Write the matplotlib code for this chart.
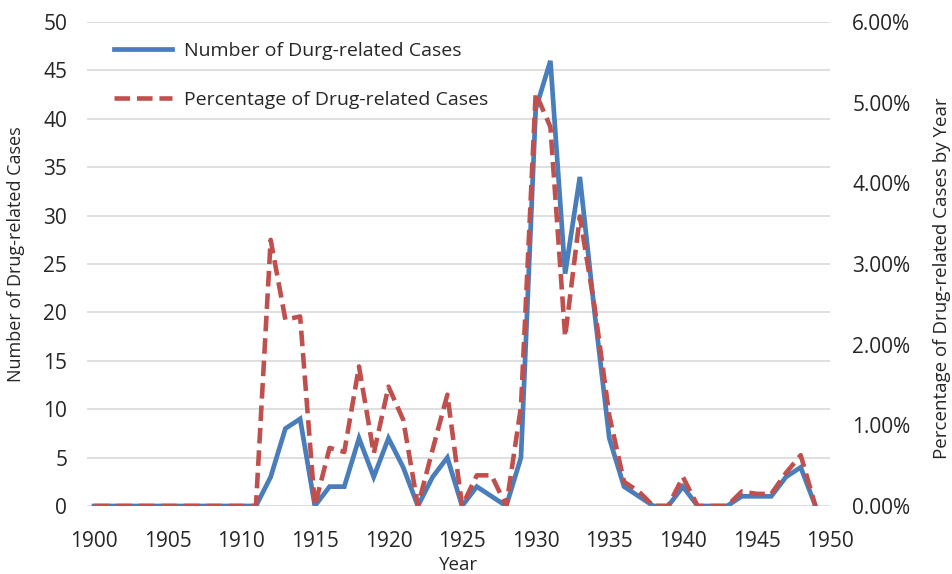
import matplotlib
matplotlib.use('Agg')
import matplotlib.pyplot as plt
from matplotlib.ticker import FuncFormatter

plt.rcParams['font.family'] = ['Open Sans', 'DejaVu Sans']

years = list(range(1900, 1950))
cases = [0, 0, 0, 0, 0, 0, 0, 0, 0, 0,
         0, 0, 3, 8, 9, 0, 2, 2, 7, 3,
         7, 4, 0, 3, 5, 0, 2, 1, 0, 5,
         41, 46, 24, 34, 20, 7, 2, 1, 0, 0,
         2, 0, 0, 0, 1, 1, 1, 3, 4, 0]
# percentage of drug-related cases (in %)
pct = [0, 0, 0, 0, 0, 0, 0, 0, 0, 0,
       0, 0, 3.30, 2.31, 2.35, 0, 0.72, 0.67, 1.73, 0.65,
       1.48, 1.07, 0, 0.70, 1.38, 0, 0.38, 0.38, 0, 1.23,
       5.12, 4.70, 2.10, 3.59, 2.47, 1.12, 0.30, 0.18, 0, 0,
       0.36, 0, 0, 0, 0.18, 0.15, 0.15, 0.41, 0.63, 0]

blue = '#4A7EBB'
red = '#C0504D'
text_col = '#262626'

fig = plt.figure(figsize=(9.52, 5.74), dpi=100)
ax = fig.add_axes([0.091, 0.1185, 0.781, 0.843])
ax2 = ax.twinx()

l1, = ax.plot(years, cases, color=blue, lw=3.4, solid_joinstyle='miter',
              label='Number of Durg-related Cases', zorder=3)
l2, = ax2.plot(years, pct, color=red, lw=3.3, dashes=(3.4, 1.5),
               label='Percentage of Drug-related Cases', zorder=3)

ax.set_xlim(1899.5, 1950)
ax.set_ylim(0, 50)
ax2.set_ylim(0, 6)
ax.set_xticks(range(1900, 1951, 5))
ax.set_yticks(range(0, 51, 5))
ax2.set_yticks(range(0, 7))
ax2.yaxis.set_major_formatter(FuncFormatter(lambda v, p: f'{v:.2f}%'))

ax.grid(axis='y', color='#D9D9D9', lw=1.2)
ax.set_axisbelow(True)
for a in (ax, ax2):
    for s in a.spines.values():
        s.set_visible(False)
    a.tick_params(length=0, labelsize=15, colors=text_col)
ax.tick_params(axis='x', pad=18)
ax.tick_params(axis='y', pad=14)
ax2.tick_params(axis='y', pad=16)

ax.set_xlabel('Year', fontsize=13.5, color=text_col, labelpad=3)
ax.set_ylabel('Number of Drug-related Cases', fontsize=13, color=text_col)
ax2.set_ylabel('Percentage of Drug-related Cases by Year', fontsize=13.5,
               color=text_col)
ax.yaxis.set_label_coords(-0.083, 0.52)
ax2.yaxis.set_label_coords(1.138, 0.47)

ax.legend(handles=[l1, l2], loc='upper left', bbox_to_anchor=(0.013, 0.995),
          frameon=False, fontsize=14, handlelength=3.0, handletextpad=0.6,
          labelspacing=1.6, labelcolor=text_col)

fig.savefig('out.png', dpi=100)
